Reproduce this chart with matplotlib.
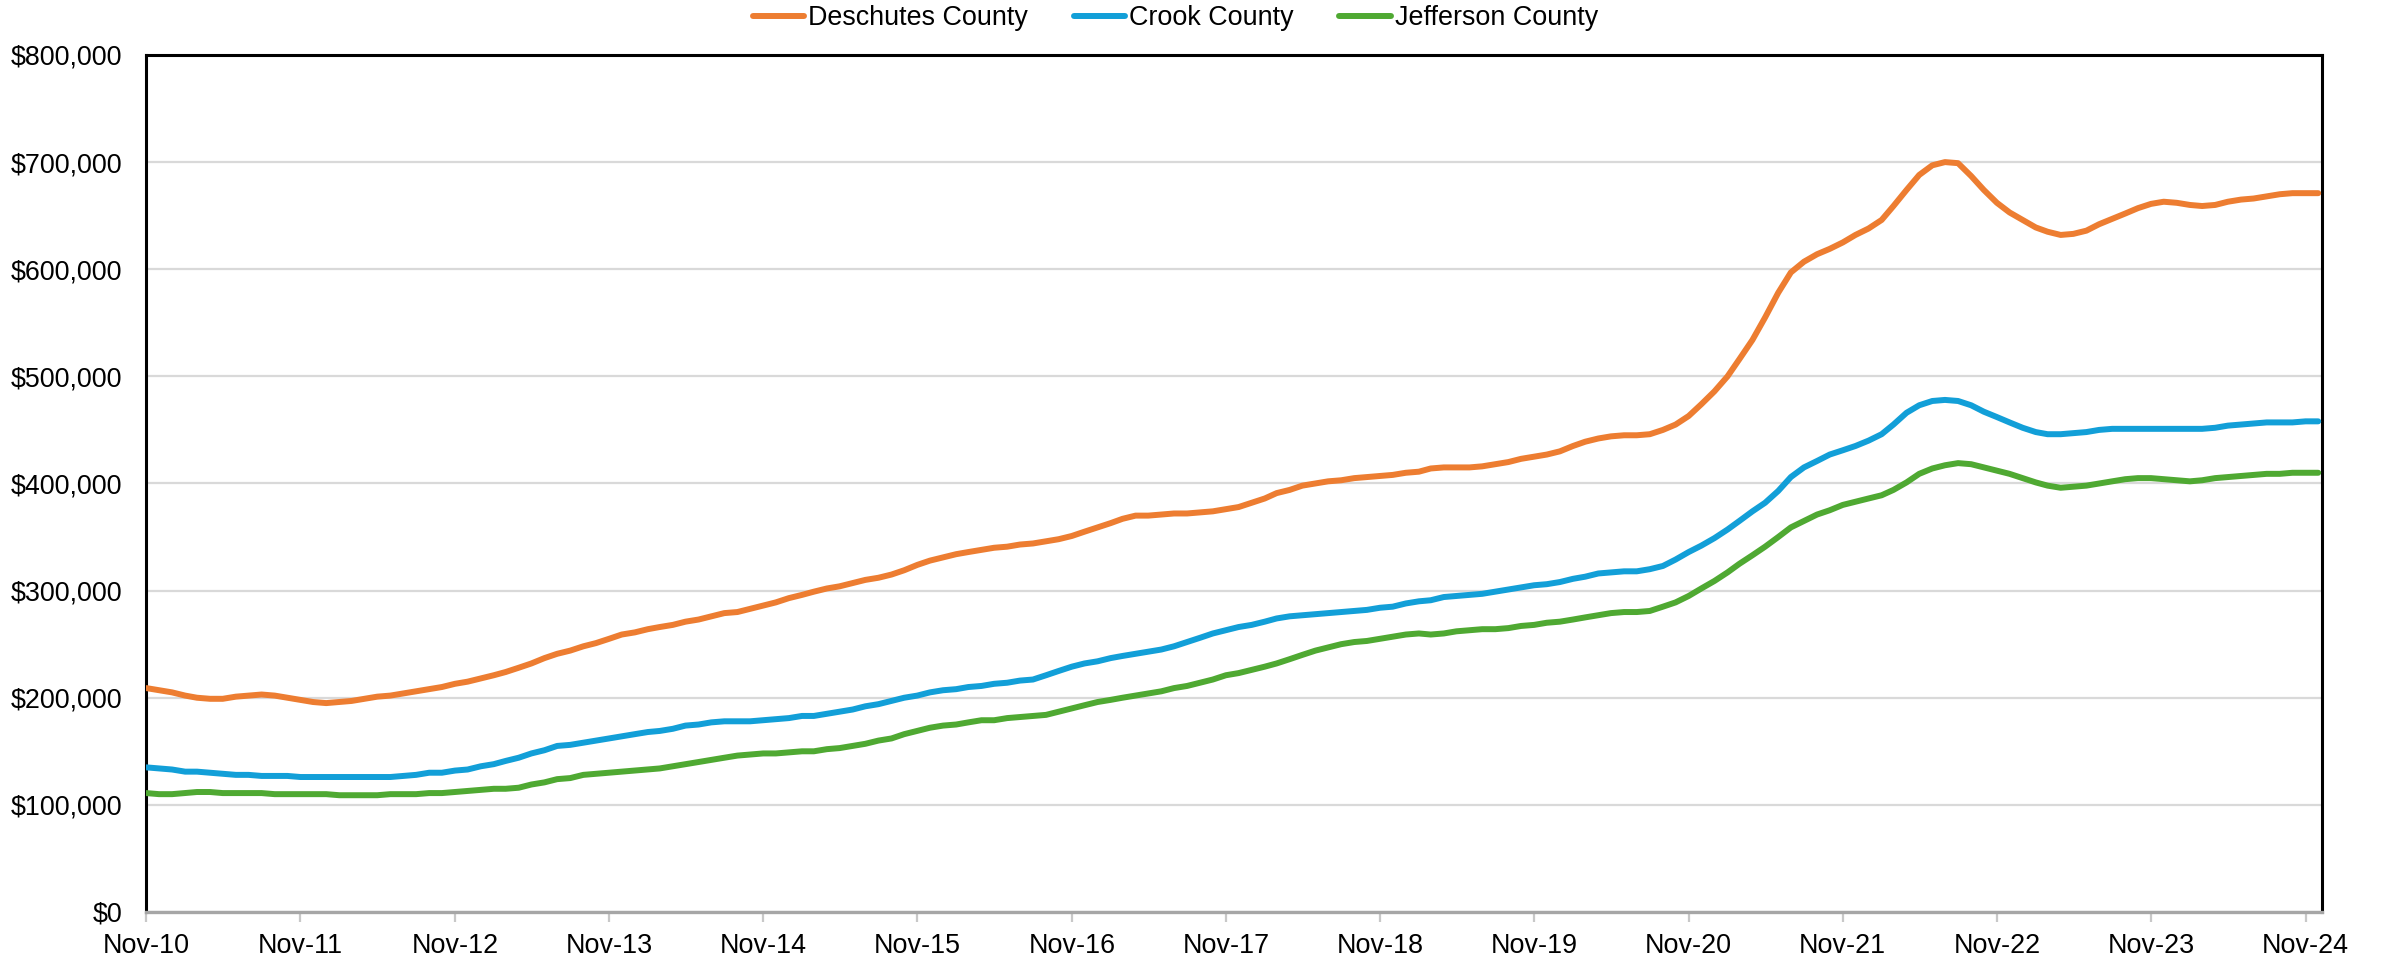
import numpy as np
import pandas as pd
import matplotlib
matplotlib.use('Agg')
import matplotlib.pyplot as plt
from matplotlib.ticker import FuncFormatter

plt.rcParams['font.family'] = ['Liberation Sans', 'DejaVu Sans']

# monthly values, Nov-10 .. Dec-24, in $1,000
months = pd.date_range('2010-11-01', periods=170, freq='MS')

deschutes = [
    209, 207, 205, 202, 200, 199, 199, 201, 202, 203, 202, 200, 198, 196, 195, 196, 197, 199, 201, 202,
    204, 206, 208, 210, 213, 215, 218, 221, 224, 228, 232, 237, 241, 244, 248, 251, 255, 259, 261, 264,
    266, 268, 271, 273, 276, 279, 280, 283, 286, 289, 293, 296, 299, 302, 304, 307, 310, 312, 315, 319,
    324, 328, 331, 334, 336, 338, 340, 341, 343, 344, 346, 348, 351, 355, 359, 363, 367, 370, 370, 371,
    372, 372, 373, 374, 376, 378, 382, 386, 391, 394, 398, 400, 402, 403, 405, 406, 407, 408, 410, 411,
    414, 415, 415, 415, 416, 418, 420, 423, 425, 427, 430, 435, 439, 442, 444, 445, 445, 446, 450, 455,
    463, 474, 486, 500, 516, 534, 555, 578, 597, 607, 614, 619, 625, 632, 638, 646, 659, 674, 688, 697,
    700, 699, 687, 674, 662, 653, 646, 639, 635, 632, 633, 636, 642, 647, 652, 657, 661, 663, 662, 660,
    659, 660, 663, 665, 666, 668, 670, 671, 671, 671,
]

crook = [
    135, 134, 133, 131, 131, 130, 129, 128, 128, 127, 127, 127, 126, 126, 126, 126, 126, 126, 126, 126,
    127, 128, 130, 130, 132, 133, 136, 138, 141, 144, 148, 151, 155, 156, 158, 160, 162, 164, 166, 168,
    169, 171, 174, 175, 177, 178, 178, 178, 179, 180, 181, 183, 183, 185, 187, 189, 192, 194, 197, 200,
    202, 205, 207, 208, 210, 211, 213, 214, 216, 217, 221, 225, 229, 232, 234, 237, 239, 241, 243, 245,
    248, 252, 256, 260, 263, 266, 268, 271, 274, 276, 277, 278, 279, 280, 281, 282, 284, 285, 288, 290,
    291, 294, 295, 296, 297, 299, 301, 303, 305, 306, 308, 311, 313, 316, 317, 318, 318, 320, 323, 329,
    336, 342, 349, 357, 365, 374, 382, 393, 406, 415, 421, 427, 431, 435, 440, 446, 455, 466, 473, 477,
    478, 477, 473, 467, 462, 457, 452, 448, 446, 446, 447, 448, 450, 451, 451, 451, 451, 451, 451, 451,
    451, 452, 454, 455, 456, 457, 457, 457, 458, 458,
]

jefferson = [
    111, 110, 110, 111, 112, 112, 111, 111, 111, 111, 110, 110, 110, 110, 110, 109, 109, 109, 109, 110,
    110, 110, 111, 111, 112, 113, 114, 115, 115, 116, 119, 121, 124, 125, 128, 129, 130, 131, 132, 133,
    134, 136, 138, 140, 142, 144, 146, 147, 148, 148, 149, 150, 150, 152, 153, 155, 157, 160, 162, 166,
    169, 172, 174, 175, 177, 179, 179, 181, 182, 183, 184, 187, 190, 193, 196, 198, 200, 202, 204, 206,
    209, 211, 214, 217, 221, 223, 226, 229, 232, 236, 240, 244, 247, 250, 252, 253, 255, 257, 259, 260,
    259, 260, 262, 263, 264, 264, 265, 267, 268, 270, 271, 273, 275, 277, 279, 280, 280, 281, 285, 289,
    295, 302, 309, 317, 325, 333, 341, 350, 359, 365, 371, 375, 380, 383, 386, 389, 394, 401, 409, 414,
    417, 419, 418, 415, 412, 409, 405, 401, 398, 396, 397, 398, 400, 402, 404, 405, 405, 404, 403, 402,
    403, 405, 406, 407, 408, 409, 409, 410, 410, 410,
]

series = [
    ('Deschutes County', deschutes, '#ED7D31'),
    ('Crook County', crook, '#129FD8'),
    ('Jefferson County', jefferson, '#4FA932'),
]

fig = plt.figure(figsize=(23.84, 9.61), dpi=100)
ax = fig.add_axes([0.0612, 0.0510, 0.9128, 0.8918])

for name, vals, col in series:
    ax.plot(months, np.array(vals) * 1000, color=col, lw=4.3, label=name,
            solid_capstyle='round', solid_joinstyle='round', zorder=3)

ax.set_ylim(0, 800000)
ax.set_yticks(np.arange(0, 800001, 100000))
ax.yaxis.set_major_formatter(FuncFormatter(lambda v, p: '${:,.0f}'.format(v)))
ax.set_xlim(months[0] - pd.Timedelta(days=1), pd.Timestamp('2024-12-10'))
ax.set_xticks(months[::12])
ax.set_xticklabels([d.strftime('%b-%y') for d in months[::12]])

ax.grid(axis='y', color='#d9d9d9', lw=1.6, zorder=0)
ax.set_axisbelow(True)

ax.tick_params(axis='y', length=0, pad=17, labelsize=19.4)
ax.tick_params(axis='x', length=7, width=1.6, color='#c8c8c8', pad=8, labelsize=19.4)

for s in ['left', 'top', 'right']:
    ax.spines[s].set_color('black')
    ax.spines[s].set_linewidth(2.2)
ax.spines['bottom'].set_color('#a6a6a6')
ax.spines['bottom'].set_linewidth(2.4)

fig.legend(loc='center', bbox_to_anchor=(0.493, 0.981), ncol=3, frameon=False,
           fontsize=19.4, handlelength=1.9, handletextpad=0.15, columnspacing=1.7)

fig.savefig('out.png', dpi=100)
